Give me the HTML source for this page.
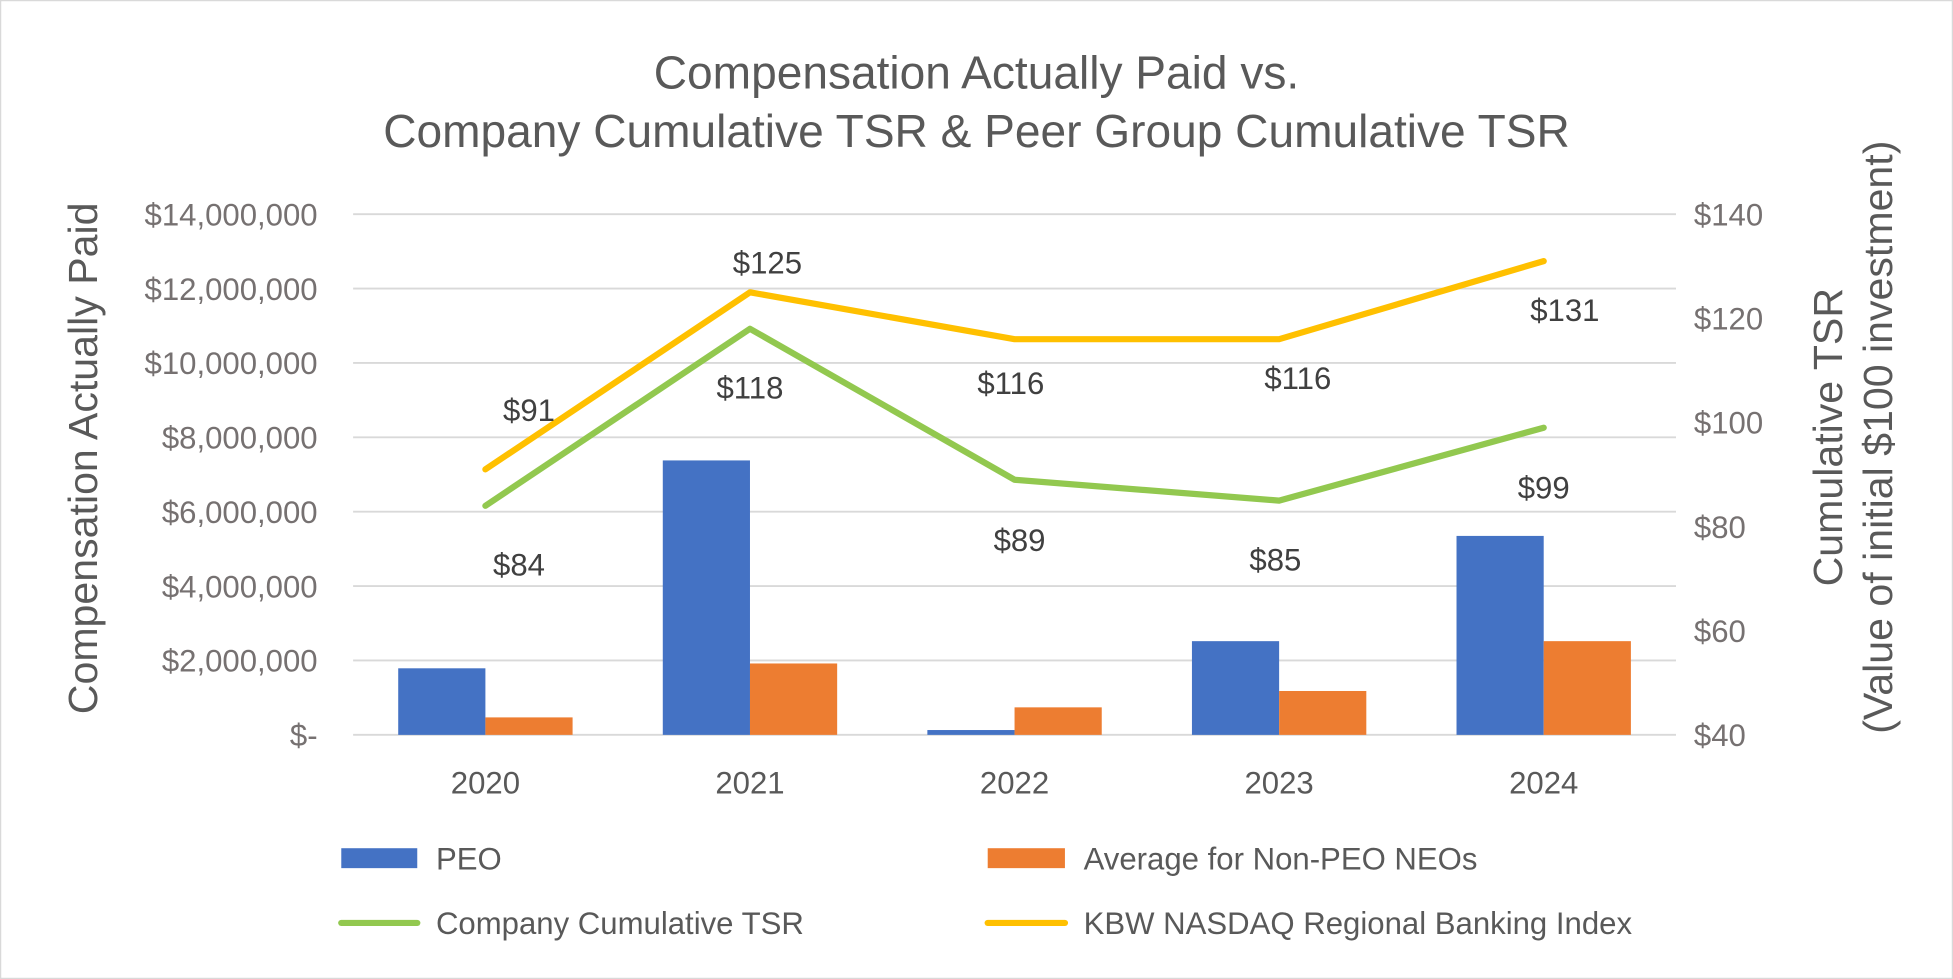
<!DOCTYPE html>
<html><head><meta charset="utf-8"><style>
html,body{margin:0;padding:0;background:#fff;}
svg{display:block;font-family:"Liberation Sans",sans-serif;}
</style></head><body>
<svg id="chart" width="1953" height="979" viewBox="0 0 1568 786" xmlns="http://www.w3.org/2000/svg">
<rect x="0.5" y="0.5" width="1567" height="785" fill="#fff" stroke="#d9d9d9"/>
<text x="784" y="71" text-anchor="middle" font-size="37" fill="#595959">Compensation Actually Paid vs.</text>
<text x="784" y="118" text-anchor="middle" font-size="37" fill="#595959">Company Cumulative TSR &amp; Peer Group Cumulative TSR</text>
<g id="grid"></g>
<g id="bars"></g>
<g id="lines"></g>
<g id="ticks"></g>
<text transform="translate(78,368) rotate(-90)" text-anchor="middle" font-size="33" fill="#595959">Compensation Actually Paid</text>
<text transform="translate(1479,351) rotate(-90)" text-anchor="middle" font-size="33" fill="#595959">Cumulative TSR</text>
<text transform="translate(1519,351) rotate(-90)" text-anchor="middle" font-size="33" fill="#595959">(Value of initial $100 investment)</text>
<g>
<rect x="274" y="681" width="61" height="16" fill="#4472c4"/>
<text x="350" y="698" font-size="25" fill="#595959">PEO</text>
<rect x="793" y="681" width="62" height="16" fill="#ed7d31"/>
<text x="870" y="698" font-size="25" fill="#595959">Average for Non-PEO NEOs</text>
<line x1="274" y1="741" x2="335" y2="741" stroke="#92c84f" stroke-width="5" stroke-linecap="round"/>
<text x="350" y="750" font-size="25" fill="#595959">Company Cumulative TSR</text>
<line x1="793" y1="741" x2="855" y2="741" stroke="#ffc000" stroke-width="5" stroke-linecap="round"/>
<text x="870" y="750" font-size="25" fill="#595959">KBW NASDAQ Regional Banking Index</text>
</g>
</svg>
<script>
const years = ["2020","2021","2022","2023","2024"];
const peo = [1790000, 7380000, 130000, 2520000, 5350000];
const neo = [470000, 1920000, 740000, 1180000, 2520000];
const companyTsr = [84, 118, 89, 85, 99];
const kbwTsr = [91, 125, 116, 116, 131];
const leftTicks = [0, 2000000, 4000000, 6000000, 8000000, 10000000, 12000000, 14000000];
const rightTicks = [40, 60, 80, 100, 120, 140];
// label offsets (style)
const compLabelOff = [[27,47],[0,47],[4,48],[-3,47],[0,48]];
const kbwLabelOff = [[35,-48],[14,-24],[-3,35],[15,31],[17,39]];

const NS = "http://www.w3.org/2000/svg";
const X0 = 283.5, X1 = 1345.6, Y0 = 590, Y1 = 172;
const step = (X1 - X0) / years.length;
const xc = i => X0 + step * (i + 0.5);
const yL = v => Y0 - (v / 14000000) * (Y0 - Y1);
const yR = v => Y0 - ((v - 40) / 100) * (Y0 - Y1);
function mk(tag, attrs, parent){const e=document.createElementNS(NS,tag);for(const k in attrs)e.setAttribute(k,attrs[k]);parent.appendChild(e);return e;}
const grid=document.getElementById('grid'),bars=document.getElementById('bars'),lines=document.getElementById('lines'),ticks=document.getElementById('ticks');
leftTicks.forEach((v,i)=>{
  const l=mk('line',{x1:X0,x2:X1,y1:yL(v),y2:yL(v),stroke:'#d9d9d9','stroke-width':1.5},grid);
  
  
  const t=mk('text',{x:255,y:yL(v)+9,'text-anchor':'end','font-size':25,fill:'#767171'},ticks);
  t.textContent = v===0 ? '$-' : '$'+v.toLocaleString('en-US');
  
  
});
rightTicks.forEach(v=>{
  const t=mk('text',{x:1360,y:yR(v)+9,'font-size':25,fill:'#767171'},ticks);
  t.textContent='$'+v;
  
  
});
const bw=70;
years.forEach((y,i)=>{
  const b1=mk('rect',{x:xc(i)-bw,y:yL(peo[i]),width:bw,height:Y0-yL(peo[i]),fill:'#4472c4'},bars);
  
  
  const b2=mk('rect',{x:xc(i),y:yL(neo[i]),width:bw,height:Y0-yL(neo[i]),fill:'#ed7d31'},bars);
  
  
  const t=mk('text',{x:xc(i),y:637,'text-anchor':'middle','font-size':25,fill:'#595959'},ticks);
  t.textContent=y;
  
  
});
function series(vals,color,name,off){
  const p=mk('polyline',{points:vals.map((v,i)=>xc(i)+','+yR(v)).join(' '),fill:'none',stroke:color,'stroke-width':5,'stroke-linecap':'round','stroke-linejoin':'round'},lines);
  
  
  vals.forEach((v,i)=>{
    const t=mk('text',{x:xc(i)+off[i][0],y:yR(v)+off[i][1]+9,'text-anchor':'middle','font-size':25,fill:'#404040'},lines);
    t.textContent='$'+v;
    
    
  });
}
series(kbwTsr,'#ffc000','kbw-tsr',kbwLabelOff);
series(companyTsr,'#92c84f','company-tsr',compLabelOff);
</script>
</body></html>
